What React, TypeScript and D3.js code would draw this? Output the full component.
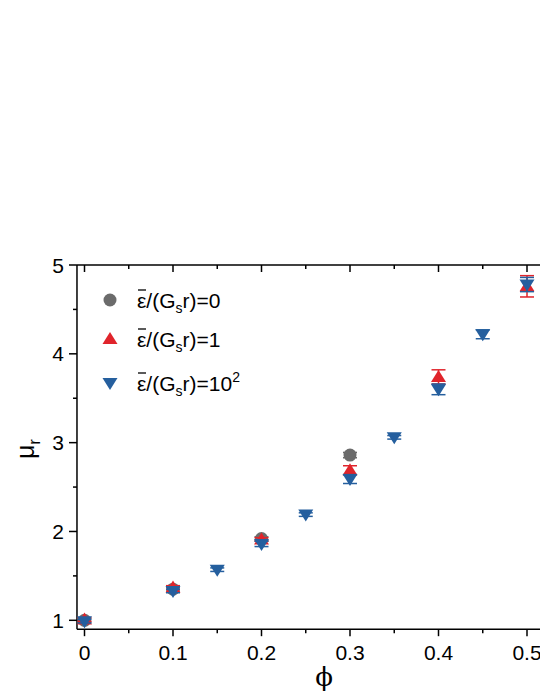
import React, { useEffect, useRef } from "react";
import * as d3 from "d3";

// phi values and mu_r for each strain ratio series
const phiGray = [0, 0.1, 0.2, 0.3];
const muGray = [1.0, 1.35, 1.92, 2.86];
const errGray = [0.02, 0.02, 0.02, 0.03];

const phiRed = [0, 0.1, 0.2, 0.3, 0.4, 0.5];
const muRed = [1.01, 1.37, 1.91, 2.69, 3.74, 4.76];
const errRed = [0.02, 0.02, 0.02, 0.05, 0.08, 0.12];

const phiBlue = [0, 0.1, 0.15, 0.2, 0.25, 0.3, 0.35, 0.4, 0.45, 0.5];
const muBlue = [0.99, 1.33, 1.57, 1.86, 2.19, 2.59, 3.06, 3.6, 4.22, 4.78];
const errBlue = [0.02, 0.02, 0.02, 0.03, 0.02, 0.05, 0.02, 0.06, 0.05, 0.08];

const xTicks = [0, 0.1, 0.2, 0.3, 0.4, 0.5];
const xMinor = [0.05, 0.15, 0.25, 0.35, 0.45];
const yTicks = [1, 2, 3, 4, 5];
const yMinor = [1.5, 2.5, 3.5, 4.5];

const GRAY = "#6b6b6b";
const RED = "#e0242b";
const BLUE = "#255f9e";
const FONT = "'Liberation Sans', Arial, sans-serif";

const Chart = () => {
  const ref = useRef(null);
  const width = 540;
  const height = 699;

  useEffect(() => {
    const svg = d3.select(ref.current);
    svg.selectAll("*").remove();

    const x = d3.scaleLinear().domain([0, 0.5]).range([84.5, 527]);
    const y = d3.scaleLinear().domain([1, 5]).range([620.3, 265]);
    const left = x(-0.0085);
    const right = x(0.52);
    const top = y(5);
    const bottom = y(0.9);

    const g = svg.append("g");

    // frame
    g.append("line").attr("x1", left).attr("x2", left).attr("y1", top).attr("y2", bottom)
      .attr("stroke", "#000").attr("stroke-width", 1.5);
    g.append("line").attr("x1", left).attr("x2", right).attr("y1", bottom).attr("y2", bottom)
      .attr("stroke", "#000").attr("stroke-width", 1.5);
    g.append("line").attr("x1", left).attr("x2", right).attr("y1", top).attr("y2", top)
      .attr("stroke", "#000").attr("stroke-width", 1.5);

    // y ticks (outward)
    yTicks.forEach((v) => {
      g.append("line").attr("x1", left - 8).attr("x2", left).attr("y1", y(v)).attr("y2", y(v))
        .attr("stroke", "#000").attr("stroke-width", 1.5);
      g.append("text").attr("x", left - 13).attr("y", y(v)).attr("dy", "0.36em")
        .attr("text-anchor", "end").attr("font-family", FONT).attr("font-size", 21).text(v);
    });
    yMinor.forEach((v) => {
      g.append("line").attr("x1", left - 4).attr("x2", left).attr("y1", y(v)).attr("y2", y(v))
        .attr("stroke", "#000").attr("stroke-width", 1.5);
    });

    // x ticks: bottom outward, top inward
    xTicks.forEach((v) => {
      g.append("line").attr("x1", x(v)).attr("x2", x(v)).attr("y1", bottom).attr("y2", bottom + 7)
        .attr("stroke", "#000").attr("stroke-width", 1.5);
      g.append("line").attr("x1", x(v)).attr("x2", x(v)).attr("y1", top).attr("y2", top + 7)
        .attr("stroke", "#000").attr("stroke-width", 1.5);
      g.append("text").attr("x", x(v)).attr("y", 660).attr("text-anchor", "middle")
        .attr("font-family", FONT).attr("font-size", 21).text(v === 0 ? "0" : String(v));
    });
    xMinor.forEach((v) => {
      g.append("line").attr("x1", x(v)).attr("x2", x(v)).attr("y1", bottom).attr("y2", bottom + 4)
        .attr("stroke", "#000").attr("stroke-width", 1.5);
      g.append("line").attr("x1", x(v)).attr("x2", x(v)).attr("y1", top).attr("y2", top + 4)
        .attr("stroke", "#000").attr("stroke-width", 1.5);
    });

    // axis titles
    g.append("text").attr("x", 324).attr("y", 686).attr("text-anchor", "middle")
      .attr("font-family", "'DejaVu Serif', 'Liberation Serif', serif").attr("font-size", 26)
      .text("\u03D5");
    const yt = g.append("text").attr("transform", "translate(34,449) rotate(-90)")
      .attr("text-anchor", "middle").attr("font-family", FONT).attr("font-size", 25);
    yt.append("tspan").text("\u03BC");
    yt.append("tspan").attr("font-size", 17).attr("dy", 6).text("r");

    const upTri = "M0,-7L7.5,5L-7.5,5Z";
    const downTri = "M0,7L7.5,-5L-7.5,-5Z";

    const drawSeries = (phis, mus, errs, color, kind) => {
      const sg = g.append("g");
      phis.forEach((p, i) => {
        const cx = x(p);
        const cy = y(mus[i]);
        const y0 = y(mus[i] - errs[i]);
        const y1 = y(mus[i] + errs[i]);
        if (kind === "circle") {
          sg.append("circle").attr("cx", cx).attr("cy", cy).attr("r", 6.5).attr("fill", color);
        } else {
          sg.append("path").attr("d", kind === "up" ? upTri : downTri)
            .attr("transform", `translate(${cx},${cy})`).attr("fill", color);
        }
        sg.append("line").attr("x1", cx).attr("x2", cx).attr("y1", y0).attr("y2", y1)
          .attr("stroke", color).attr("stroke-width", 1.5);
        [y0, y1].forEach((yy) => {
          sg.append("line").attr("x1", cx - 7).attr("x2", cx + 7).attr("y1", yy).attr("y2", yy)
            .attr("stroke", color).attr("stroke-width", 1.5);
        });
      });
    };

    drawSeries(phiGray, muGray, errGray, GRAY, "circle");
    drawSeries(phiRed, muRed, errRed, RED, "up");
    drawSeries(phiBlue, muBlue, errBlue, BLUE, "down");

    // legend
    const legend = [
      { color: GRAY, kind: "circle", ly: 300, tail: "0", sup: null },
      { color: RED, kind: "up", ly: 339, tail: "1", sup: null },
      { color: BLUE, kind: "down", ly: 383, tail: "10", sup: "2" },
    ];
    legend.forEach((d) => {
      if (d.kind === "circle") {
        g.append("circle").attr("cx", 110).attr("cy", d.ly).attr("r", 6.5).attr("fill", d.color);
      } else {
        g.append("path").attr("d", d.kind === "up" ? upTri : downTri)
          .attr("transform", `translate(110,${d.ly})`).attr("fill", d.color);
      }
      const base = d.ly + 8;
      const t = g.append("text").attr("x", 137).attr("y", base)
        .attr("font-family", FONT).attr("font-size", 21);
      t.append("tspan").text("\u03B5/(G");
      t.append("tspan").attr("font-size", 14).attr("dy", 5).text("s");
      t.append("tspan").attr("dy", -5).text("r)=" + d.tail);
      if (d.sup) {
        t.append("tspan").attr("font-size", 14).attr("dy", -9).text(d.sup);
      }
      // macron over epsilon
      g.append("line").attr("x1", 138).attr("x2", 146).attr("y1", base - 18).attr("y2", base - 18)
        .attr("stroke", "#000").attr("stroke-width", 1.3);
    });
  }, []);

  return (
    <svg
      ref={ref}
      width={width}
      height={height}
      style={{ position: "absolute", left: 0, top: 0, background: "#fff" }}
    />
  );
};

export default function App() {
  return <Chart />;
}
